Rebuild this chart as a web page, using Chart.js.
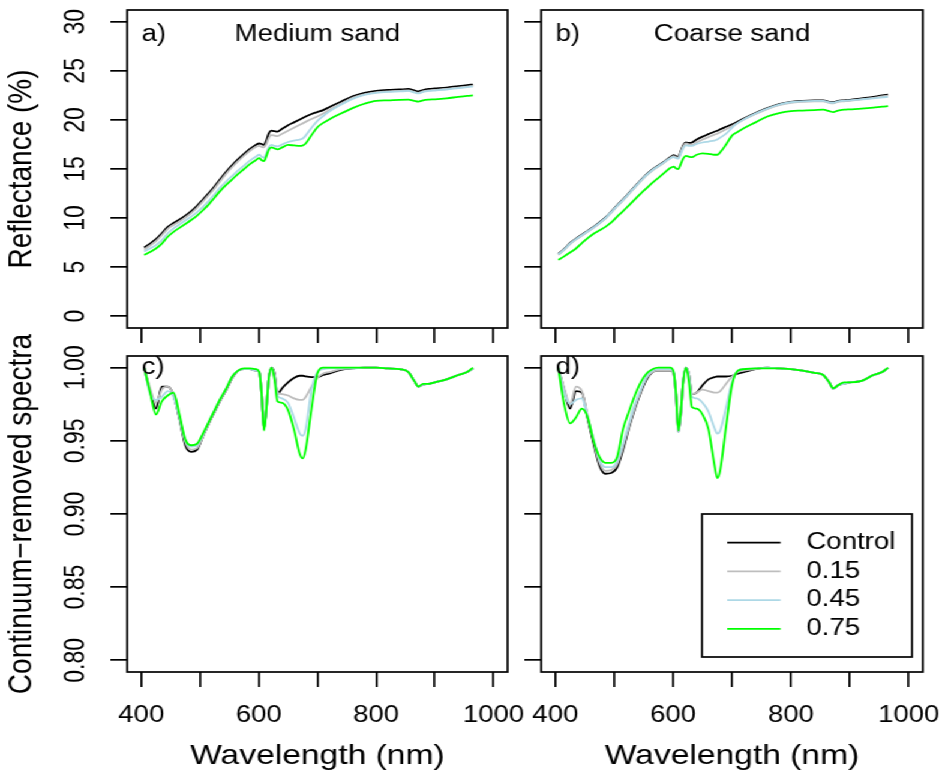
<!DOCTYPE html>
<html>
<head>
<meta charset="utf-8">
<script src="https://cdn.jsdelivr.net/npm/chart.js@4.4.0/dist/chart.umd.min.js"></script>
<style>
  html, body { margin: 0; padding: 0; background: #fff; overflow: hidden; }
  /* the four square panels are laid out at 787px wide and stretched to fill the page */
  #fig { position: absolute; left: 0; top: 0; width: 787px; height: 774px; transform: scaleX(1.2); transform-origin: 0 0; }
  .panel { position: absolute; }
</style>
</head>
<body>
<div id="fig">
  <div class="panel" style="left:0;top:0;width:430px;height:345px"><canvas id="pa"></canvas></div>
  <div class="panel" style="left:430px;top:0;width:357px;height:345px"><canvas id="pb"></canvas></div>
  <div class="panel" style="left:0;top:325px;width:445px;height:449px"><canvas id="pc"></canvas></div>
  <div class="panel" style="left:430px;top:325px;width:357px;height:449px"><canvas id="pd"></canvas></div>
</div>
<script>
// wavelengths (nm) shared by every spectrum
var wavelength = [
  405, 415, 425, 435, 445, 455, 465, 475, 485, 495,
  505, 515, 525, 535, 545, 555, 565, 575, 585, 595,
  601, 605, 609, 613, 617, 622, 627, 632, 640, 650,
  660, 670, 675, 680, 690, 700, 710, 720, 740, 760,
  780, 800, 820, 840, 855, 865, 872, 880, 890, 900,
  920, 940, 955, 965
];

var xTicks = [400, 500, 600, 700, 800, 900, 1000];
var xTickLabels = [400, 600, 800, 1000];
var reflTicks = [0, 5, 10, 15, 20, 25, 30];
var crTicks = [0.80, 0.85, 0.90, 0.95, 1.00];

var seriesNames = ['Control', '0.15', '0.45', '0.75'];
var seriesColors = ['#000000', '#bebebe', '#add8e6', '#00ff00'];

// reflectance (%), medium sand
var medReflControl = [
  7.0, 7.4, 7.85, 8.45, 9.1, 9.5, 9.85, 10.25, 10.7, 11.25,
  11.9, 12.55, 13.25, 14.0, 14.75, 15.4, 16.0, 16.55, 17.05, 17.45,
  17.6, 17.55, 17.45, 17.9, 18.6, 18.9, 18.85, 18.8, 19.1, 19.45,
  19.75, 20.05, 20.2, 20.35, 20.6, 20.8, 21.0, 21.3, 21.85, 22.4,
  22.75, 22.95, 23.05, 23.1, 23.15, 23.0, 22.9, 23.05, 23.15, 23.2,
  23.3, 23.45, 23.55, 23.6
];
var medRefl015 = [
  6.8, 7.2, 7.65, 8.25, 8.9, 9.3, 9.65, 10.05, 10.5, 11.05,
  11.7, 12.35, 13.05, 13.8, 14.55, 15.2, 15.8, 16.35, 16.85, 17.25,
  17.35, 17.25, 17.2, 17.55, 18.15, 18.45, 18.4, 18.35, 18.6, 18.9,
  19.2, 19.5, 19.65, 19.8, 20.1, 20.35, 20.65, 21.0, 21.65, 22.25,
  22.6, 22.8, 22.9, 22.95, 23.0, 22.85, 22.75, 22.9, 23.0, 23.05,
  23.15, 23.3, 23.4, 23.45
];
var medRefl045 = [
  6.6, 6.9, 7.25, 7.75, 8.45, 8.95, 9.35, 9.75, 10.15, 10.6,
  11.15, 11.75, 12.45, 13.15, 13.75, 14.3, 14.85, 15.35, 15.85, 16.25,
  16.45, 16.25, 16.15, 16.6, 17.2, 17.45, 17.35, 17.3, 17.5, 17.75,
  17.9, 18.0, 18.1, 18.4, 19.2, 19.9, 20.4, 20.85, 21.55, 22.15,
  22.55, 22.75, 22.85, 22.9, 22.95, 22.8, 22.7, 22.85, 22.95, 23.0,
  23.1, 23.25, 23.35, 23.4
];
var medRefl075 = [
  6.25, 6.55, 6.9, 7.4, 8.1, 8.6, 9.0, 9.4, 9.8, 10.25,
  10.8, 11.4, 12.1, 12.8, 13.4, 13.95, 14.5, 15.0, 15.5, 15.9,
  16.1, 15.9, 15.8, 16.3, 16.95, 17.2, 17.1, 17.0, 17.2, 17.45,
  17.4, 17.35, 17.4, 17.6, 18.45, 19.25, 19.7, 20.05, 20.65, 21.2,
  21.65, 21.95, 22.0, 22.05, 22.07, 21.95, 21.87, 22.0, 22.07, 22.1,
  22.2, 22.35, 22.45, 22.5
];

// reflectance (%), coarse sand
var coaReflControl = [
  6.35, 6.85, 7.45, 7.9, 8.3, 8.7, 9.1, 9.55, 10.05, 10.65,
  11.3, 11.9, 12.55, 13.2, 13.85, 14.45, 14.95, 15.35, 15.75, 16.2,
  16.4, 16.3, 16.25, 16.8, 17.4, 17.7, 17.65, 17.7, 18.0, 18.3,
  18.55, 18.8, 18.9, 19.05, 19.3, 19.55, 19.85, 20.15, 20.7, 21.2,
  21.6, 21.85, 21.95, 22.0, 22.0, 21.85, 21.8, 21.95, 22.0, 22.05,
  22.2, 22.35, 22.5, 22.58
];
var coaRefl015 = [
  6.25, 6.75, 7.35, 7.8, 8.2, 8.6, 9.0, 9.45, 9.95, 10.55,
  11.2, 11.8, 12.45, 13.1, 13.75, 14.35, 14.85, 15.25, 15.65, 16.1,
  16.3, 16.2, 16.15, 16.7, 17.3, 17.6, 17.5, 17.45, 17.7, 18.0,
  18.25, 18.5, 18.6, 18.75, 19.05, 19.35, 19.7, 20.05, 20.6, 21.1,
  21.5, 21.75, 21.85, 21.9, 21.9, 21.75, 21.7, 21.85, 21.9, 21.95,
  22.1, 22.25, 22.4, 22.48
];
var coaRefl045 = [
  6.3, 6.8, 7.4, 7.85, 8.25, 8.65, 9.05, 9.5, 10.0, 10.6,
  11.25, 11.85, 12.5, 13.15, 13.8, 14.4, 14.9, 15.3, 15.7, 16.1,
  16.2, 16.1, 16.05, 16.55, 17.1, 17.4, 17.35, 17.35, 17.55, 17.7,
  17.8, 17.9, 18.0, 18.2, 18.6, 19.2, 19.7, 20.05, 20.65, 21.15,
  21.55, 21.8, 21.9, 21.95, 21.95, 21.8, 21.75, 21.9, 21.95, 22.0,
  22.1, 22.2, 22.3, 22.35
];
var coaRefl075 = [
  5.75, 6.1, 6.5, 6.9, 7.45, 7.95, 8.4, 8.75, 9.1, 9.55,
  10.15, 10.7, 11.3, 11.9, 12.5, 13.05, 13.6, 14.1, 14.6, 15.1,
  15.25, 15.05, 15.0, 15.5, 16.05, 16.33, 16.25, 16.2, 16.45, 16.6,
  16.55, 16.45, 16.45, 16.7, 17.5, 18.4, 18.8, 19.15, 19.75, 20.35,
  20.7, 20.9, 20.95, 21.0, 21.04, 20.9, 20.8, 20.95, 21.04, 21.08,
  21.15, 21.25, 21.35, 21.4
];

// continuum-removed spectra, medium sand
var medCrControl = [
  1.0, 0.984, 0.972, 0.987, 0.987, 0.981, 0.965, 0.947, 0.9425, 0.944,
  0.953, 0.962, 0.970, 0.978, 0.985, 0.993, 0.998, 0.999, 0.999, 0.998,
  0.997, 0.982, 0.958, 0.972, 0.992, 1.0, 0.996, 0.982, 0.986, 0.990,
  0.993, 0.9945, 0.9945, 0.994, 0.9935, 0.9935, 0.995, 0.996, 0.9985, 0.9995,
  1.0, 1.0, 0.9995, 0.999, 0.997, 0.991, 0.987, 0.9885, 0.989, 0.990,
  0.992, 0.995, 0.997, 0.9995
];
var medCr015 = [
  1.0, 0.986, 0.976, 0.985, 0.987, 0.981, 0.966, 0.949, 0.944, 0.945,
  0.953, 0.962, 0.970, 0.978, 0.985, 0.993, 0.998, 0.999, 0.999, 0.998,
  0.997, 0.982, 0.958, 0.972, 0.992, 1.0, 0.995, 0.983, 0.982, 0.981,
  0.979, 0.978, 0.978, 0.980, 0.987, 0.993, 0.996, 0.997, 0.999, 0.9995,
  1.0, 1.0, 0.9995, 0.999, 0.997, 0.991, 0.987, 0.9885, 0.989, 0.990,
  0.992, 0.995, 0.997, 0.9995
];
var medCr045 = [
  1.0, 0.982, 0.978, 0.980, 0.984, 0.980, 0.966, 0.950, 0.946, 0.947,
  0.954, 0.963, 0.971, 0.979, 0.986, 0.994, 0.998, 0.999, 0.999, 0.998,
  0.997, 0.982, 0.958, 0.972, 0.992, 1.0, 0.994, 0.981, 0.979, 0.976,
  0.966, 0.955, 0.9535, 0.958, 0.985, 0.997, 0.999, 0.9995, 0.9995, 0.9995,
  1.0, 1.0, 0.9995, 0.999, 0.997, 0.991, 0.987, 0.9885, 0.989, 0.990,
  0.992, 0.995, 0.997, 0.9995
];
var medCr075 = [
  1.0, 0.983, 0.968, 0.977, 0.981, 0.983, 0.968, 0.951, 0.947, 0.948,
  0.955, 0.963, 0.971, 0.979, 0.986, 0.994, 0.998, 0.9995, 0.9995, 0.999,
  0.997, 0.982, 0.957, 0.971, 0.992, 1.0, 0.992, 0.977, 0.976, 0.971,
  0.958, 0.941, 0.938, 0.944, 0.972, 0.996, 1.0, 1.0, 1.0, 1.0,
  1.0, 1.0, 0.9995, 0.999, 0.997, 0.991, 0.987, 0.989, 0.989, 0.990,
  0.992, 0.995, 0.997, 1.0
];

// continuum-removed spectra, coarse sand
var coaCrControl = [
  1.0, 0.985, 0.972, 0.984, 0.983, 0.965, 0.948, 0.933, 0.9275, 0.928,
  0.932, 0.944, 0.959, 0.972, 0.983, 0.992, 0.997, 0.998, 0.998, 0.998,
  0.996, 0.98, 0.956, 0.968, 0.99, 1.0, 0.995, 0.982, 0.983, 0.988,
  0.992, 0.9935, 0.994, 0.994, 0.994, 0.9945, 0.996, 0.997, 0.999, 1.0,
  0.9995, 0.999, 0.998, 0.9965, 0.995, 0.99, 0.9857, 0.988, 0.989, 0.99,
  0.991, 0.995, 0.997, 0.9997
];
var coaCr015 = [
  1.0, 0.986, 0.975, 0.987, 0.984, 0.967, 0.95, 0.935, 0.9295, 0.930,
  0.934, 0.946, 0.960, 0.973, 0.984, 0.993, 0.997, 0.998, 0.998, 0.998,
  0.996, 0.98, 0.956, 0.968, 0.99, 1.0, 0.995, 0.982, 0.983, 0.985,
  0.984, 0.983, 0.983, 0.984, 0.989, 0.994, 0.997, 0.998, 0.999, 1.0,
  0.9995, 0.999, 0.998, 0.9965, 0.995, 0.99, 0.9857, 0.988, 0.989, 0.99,
  0.991, 0.995, 0.997, 0.9997
];
var coaCr045 = [
  1.0, 0.983, 0.975, 0.978, 0.979, 0.966, 0.951, 0.937, 0.932, 0.932,
  0.936, 0.948, 0.962, 0.975, 0.985, 0.994, 0.998, 0.999, 0.999, 0.999,
  0.997, 0.98, 0.956, 0.968, 0.99, 1.0, 0.994, 0.980, 0.979, 0.976,
  0.970, 0.959, 0.955, 0.957, 0.973, 0.99, 0.998, 0.999, 0.9995, 1.0,
  0.9995, 0.999, 0.998, 0.9965, 0.995, 0.99, 0.9857, 0.988, 0.989, 0.99,
  0.991, 0.995, 0.997, 0.9997
];
var coaCr075 = [
  1.0, 0.975, 0.962, 0.966, 0.972, 0.966, 0.950, 0.939, 0.935, 0.935,
  0.939, 0.958, 0.970, 0.981, 0.990, 0.996, 0.999, 1.0, 1.0, 1.0,
  0.997, 0.982, 0.957, 0.97, 0.99, 1.0, 0.99, 0.973, 0.972, 0.968,
  0.958, 0.934, 0.9245, 0.93, 0.96, 0.988, 0.998, 0.999, 0.9995, 0.9995,
  0.9995, 0.999, 0.998, 0.9965, 0.995, 0.99, 0.986, 0.988, 0.99, 0.99,
  0.991, 0.995, 0.997, 1.0
];

var FONT = '"Liberation Sans", Arial, Helvetica, sans-serif';
Chart.defaults.font.family = FONT;
Chart.defaults.color = '#000';

// box round the plotting region
var framePlugin = {
  id: 'frame',
  afterDatasetsDraw: function(chart) {
    var a = chart.chartArea, ctx = chart.ctx;
    ctx.save();
    ctx.strokeStyle = '#000';
    ctx.lineWidth = 1.7;
    ctx.strokeRect(a.left, a.top, a.right - a.left, a.bottom - a.top);
    ctx.restore();
  }
};

// panel letter and sample name
var notesPlugin = {
  id: 'notes',
  afterDraw: function(chart, args, o) {
    var a = chart.chartArea, ctx = chart.ctx;
    ctx.save();
    ctx.fillStyle = '#000';
    ctx.textBaseline = 'alphabetic';
    ctx.font = '23px ' + FONT;
    if (o.tag) {
      ctx.textAlign = 'left';
      ctx.fillText(o.tag, a.left + 12, a.top + o.tagY);
    }
    if (o.title) {
      ctx.textAlign = 'center';
      ctx.fillText(o.title, (a.left + a.right) / 2, a.top + o.tagY);
    }
    ctx.restore();
  }
};

// boxed key in the lower right corner
var keyPlugin = {
  id: 'key',
  afterDraw: function(chart, args, o) {
    if (!o.show) return;
    var a = chart.chartArea, ctx = chart.ctx;
    var w = 175, h = 143;
    var left = a.right - 9 - w, top = a.bottom - 15 - h;
    ctx.save();
    ctx.fillStyle = '#fff';
    ctx.fillRect(left, top, w, h);
    ctx.strokeStyle = '#000';
    ctx.lineWidth = 1.7;
    ctx.strokeRect(left, top, w, h);
    ctx.font = '23px ' + FONT;
    ctx.textAlign = 'left';
    ctx.textBaseline = 'middle';
    chart.data.datasets.forEach(function(ds, i) {
      var y = top + 28.7 * (i + 1);
      ctx.strokeStyle = ds.borderColor;
      ctx.lineWidth = 1.8;
      ctx.beginPath();
      ctx.moveTo(left + 21, y);
      ctx.lineTo(left + 65.5, y);
      ctx.stroke();
      ctx.fillStyle = '#000';
      ctx.fillText(ds.label, left + 87, y);
    });
    ctx.restore();
  }
};

// fixed axis sizes, and no extra room for labels hanging past the box
function fixSize(prop, size) {
  return function(s) {
    s[prop] = size;
    s.paddingLeft = 0;
    s.paddingRight = 0;
    s.paddingTop = 0;
    s.paddingBottom = 0;
  };
}

function makePanel(id, p) {
  var sets = p.series.map(function(vals, i) {
    return {
      label: seriesNames[i],
      data: wavelength.map(function(w, k) { return { x: w, y: vals[k] }; }),
      borderColor: seriesColors[i],
      backgroundColor: seriesColors[i],
      borderWidth: 1.8,
      pointRadius: 0,
      fill: false,
      cubicInterpolationMode: 'monotone',
      order: 4 - i
    };
  });

  var tickGrid = { display: true, drawOnChartArea: false, drawTicks: true, color: '#000', tickColor: '#000', lineWidth: 1.7, tickWidth: 1.7 };

  return new Chart(document.getElementById(id), {
    type: 'line',
    data: { datasets: sets },
    options: {
      responsive: true,
      maintainAspectRatio: false,
      animation: false,
      events: [],
      layout: { padding: p.padding },
      plugins: {
        legend: { display: false },
        tooltip: { enabled: false },
        notes: { tag: p.tag, title: p.title, tagY: p.tagY },
        key: { show: !!p.key }
      },
      scales: {
        x: {
          type: 'linear',
          min: 376,
          max: 1024,
          afterBuildTicks: function(s) { s.ticks = xTicks.map(function(v) { return { value: v }; }); },
          afterFit: fixSize('height', p.xHeight),
          grid: Object.assign({ tickLength: 15 }, tickGrid),
          border: { display: false },
          ticks: {
            autoSkip: false,
            maxRotation: 0,
            minRotation: 0,
            padding: 14.5,
            color: '#000',
            font: { size: 23 },
            callback: function(v) { return p.xTitle && xTickLabels.indexOf(v) >= 0 ? String(v) : ''; }
          },
          title: {
            display: !!p.xTitle,
            text: p.xTitle || '',
            color: '#000',
            font: { size: 28 },
            padding: { top: 0, bottom: 1 }
          }
        },
        y: {
          type: 'linear',
          min: p.yMin,
          max: p.yMax,
          afterBuildTicks: function(s) { s.ticks = p.yTicks.map(function(v) { return { value: v }; }); },
          afterFit: fixSize('width', p.yWidth),
          grid: Object.assign({ tickLength: 14 }, tickGrid),
          border: { display: false },
          ticks: {
            autoSkip: false,
            minRotation: 90,
            maxRotation: 90,
            crossAlign: 'center',
            padding: p.yPad,
            color: '#000',
            font: { size: 23 },
            callback: function(v) { return p.yTitle ? p.yFormat(v) : ''; }
          },
          title: {
            display: !!p.yTitle,
            text: p.yTitle || '',
            color: '#000',
            font: { size: 28 },
            padding: { top: 1, bottom: 0 }
          }
        }
      }
    },
    plugins: [framePlugin, notesPlugin, keyPlugin]
  });
}

function fmtRefl(v) { return String(v); }
function fmtCr(v) { return v.toFixed(2); }

makePanel('pa', {
  series: [medReflControl, medRefl015, medRefl045, medRefl075],
  padding: { left: 0, top: 10, right: 7, bottom: 0 },
  yWidth: 106, xHeight: 17, yPad: 15.4,
  yMin: -1.2, yMax: 31.2, yTicks: reflTicks, yFormat: fmtRefl,
  yTitle: 'Reflectance (%)',
  tag: 'a)', title: 'Medium sand', tagY: 30.5
});

makePanel('pb', {
  series: [coaReflControl, coaRefl015, coaRefl045, coaRefl075],
  padding: { left: 0, top: 10, right: 18, bottom: 0 },
  yWidth: 21, xHeight: 17, yPad: 15.4,
  yMin: -1.2, yMax: 31.2, yTicks: reflTicks, yFormat: fmtRefl,
  tag: 'b)', title: 'Coarse sand', tagY: 30.5
});

makePanel('pc', {
  series: [medCrControl, medCr015, medCr045, medCr075],
  padding: { left: 0, top: 31, right: 22, bottom: 0 },
  yWidth: 106, xHeight: 102, yPad: 5.8,
  yMin: 0.792, yMax: 1.008, yTicks: crTicks, yFormat: fmtCr,
  yTitle: 'Continuum\u2212removed spectra',
  xTitle: 'Wavelength (nm)',
  tag: 'c)', tagY: 18
});

makePanel('pd', {
  series: [coaCrControl, coaCr015, coaCr045, coaCr075],
  padding: { left: 0, top: 31, right: 18, bottom: 0 },
  yWidth: 21, xHeight: 102, yPad: 5.8,
  yMin: 0.792, yMax: 1.008, yTicks: crTicks, yFormat: fmtCr,
  xTitle: 'Wavelength (nm)',
  tag: 'd)', tagY: 18,
  key: true
});
</script>
</body>
</html>
